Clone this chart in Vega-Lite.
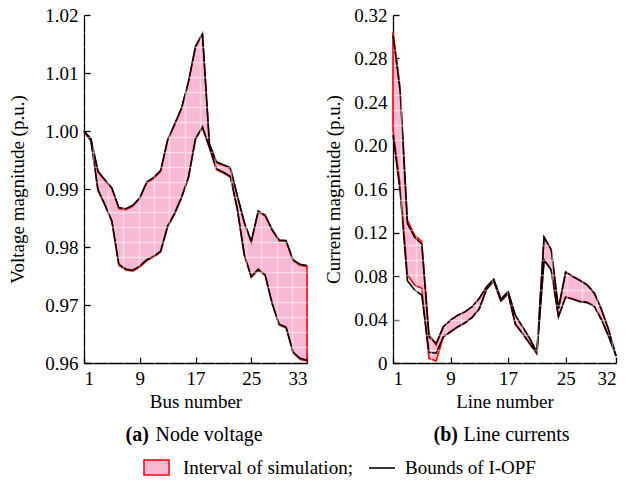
{
  "$schema": "https://vega.github.io/schema/vega-lite/v6.json",
  "background": "white",
  "padding": {"left": 8, "top": 6, "right": 8, "bottom": 4},
  "bounds": "flush",
  "spacing": 86,
  "config": {
    "font": "Liberation Serif",
    "view": {"stroke": null},
    "axis": {
      "labelFont": "Liberation Serif", "titleFont": "Liberation Serif",
      "labelFontSize": 19, "titleFontSize": 19, "titleFontWeight": "normal",
      "labelColor": "black", "titleColor": "black",
      "domainColor": "black", "tickColor": "black", "domainWidth": 1.3, "tickWidth": 1.3,
      "tickSize": -6, "labelPadding": 12, "grid": false
    },
    "legend": {"labelFont": "Liberation Serif", "labelFontSize": 19, "labelColor": "black", "labelLimit": 400, "title": null, "padding": 0},
    "title": {"font": "Liberation Serif", "subtitleFont": "Liberation Serif", "fontSize": 20, "subtitleFontSize": 20, "color": "black", "subtitleColor": "black"}
  },
  "datasets": {
    "voltage": [
      {"bus": 1, "opf_lo": 1.0000, "opf_hi": 1.0000, "sim_lo": 0.99985, "sim_hi": 0.99985},
      {"bus": 2, "opf_lo": 0.9984, "opf_hi": 0.9987, "sim_lo": 0.99825, "sim_hi": 0.99855},
      {"bus": 3, "opf_lo": 0.9899, "opf_hi": 0.9931, "sim_lo": 0.98975, "sim_hi": 0.99295},
      {"bus": 4, "opf_lo": 0.9873, "opf_hi": 0.9916, "sim_lo": 0.98715, "sim_hi": 0.99145},
      {"bus": 5, "opf_lo": 0.9845, "opf_hi": 0.9902, "sim_lo": 0.98435, "sim_hi": 0.99005},
      {"bus": 6, "opf_lo": 0.9770, "opf_hi": 0.9868, "sim_lo": 0.97685, "sim_hi": 0.98665},
      {"bus": 7, "opf_lo": 0.9762, "opf_hi": 0.9866, "sim_lo": 0.97605, "sim_hi": 0.98645},
      {"bus": 8, "opf_lo": 0.9760, "opf_hi": 0.9872, "sim_lo": 0.97585, "sim_hi": 0.98705},
      {"bus": 9, "opf_lo": 0.9767, "opf_hi": 0.9885, "sim_lo": 0.97655, "sim_hi": 0.98835},
      {"bus": 10, "opf_lo": 0.9778, "opf_hi": 0.9912, "sim_lo": 0.97765, "sim_hi": 0.99105},
      {"bus": 11, "opf_lo": 0.9784, "opf_hi": 0.9920, "sim_lo": 0.97825, "sim_hi": 0.99185},
      {"bus": 12, "opf_lo": 0.9793, "opf_hi": 0.9932, "sim_lo": 0.97915, "sim_hi": 0.99305},
      {"bus": 13, "opf_lo": 0.9836, "opf_hi": 0.9985, "sim_lo": 0.98345, "sim_hi": 0.99835},
      {"bus": 14, "opf_lo": 0.9858, "opf_hi": 1.0012, "sim_lo": 0.98565, "sim_hi": 1.00105},
      {"bus": 15, "opf_lo": 0.9886, "opf_hi": 1.0040, "sim_lo": 0.98845, "sim_hi": 1.00385},
      {"bus": 16, "opf_lo": 0.9921, "opf_hi": 1.0086, "sim_lo": 0.99195, "sim_hi": 1.00845},
      {"bus": 17, "opf_lo": 0.9987, "opf_hi": 1.0146, "sim_lo": 0.99855, "sim_hi": 1.01445},
      {"bus": 18, "opf_lo": 1.0007, "opf_hi": 1.0168, "sim_lo": 1.00055, "sim_hi": 1.01665},
      {"bus": 19, "opf_lo": 0.9972, "opf_hi": 0.9978, "sim_lo": 0.99705, "sim_hi": 0.99765},
      {"bus": 20, "opf_lo": 0.9935, "opf_hi": 0.9947, "sim_lo": 0.99335, "sim_hi": 0.99455},
      {"bus": 21, "opf_lo": 0.9929, "opf_hi": 0.9942, "sim_lo": 0.99275, "sim_hi": 0.99405},
      {"bus": 22, "opf_lo": 0.9922, "opf_hi": 0.9937, "sim_lo": 0.99205, "sim_hi": 0.99355},
      {"bus": 23, "opf_lo": 0.9866, "opf_hi": 0.9889, "sim_lo": 0.98645, "sim_hi": 0.98875},
      {"bus": 24, "opf_lo": 0.9787, "opf_hi": 0.9843, "sim_lo": 0.97855, "sim_hi": 0.98415},
      {"bus": 25, "opf_lo": 0.9749, "opf_hi": 0.9810, "sim_lo": 0.97475, "sim_hi": 0.98085},
      {"bus": 26, "opf_lo": 0.9762, "opf_hi": 0.9862, "sim_lo": 0.97605, "sim_hi": 0.98605},
      {"bus": 27, "opf_lo": 0.9752, "opf_hi": 0.9855, "sim_lo": 0.97505, "sim_hi": 0.98535},
      {"bus": 28, "opf_lo": 0.9703, "opf_hi": 0.9830, "sim_lo": 0.97015, "sim_hi": 0.98285},
      {"bus": 29, "opf_lo": 0.9667, "opf_hi": 0.9812, "sim_lo": 0.96655, "sim_hi": 0.98105},
      {"bus": 30, "opf_lo": 0.9662, "opf_hi": 0.9811, "sim_lo": 0.96605, "sim_hi": 0.98095},
      {"bus": 31, "opf_lo": 0.9619, "opf_hi": 0.9778, "sim_lo": 0.96175, "sim_hi": 0.97765},
      {"bus": 32, "opf_lo": 0.9608, "opf_hi": 0.9770, "sim_lo": 0.96065, "sim_hi": 0.97685},
      {"bus": 33, "opf_lo": 0.9605, "opf_hi": 0.9768, "sim_lo": 0.96035, "sim_hi": 0.97665}
    ],
    "current": [
      {"line": 1, "opf_lo": 0.2097, "opf_hi": 0.3016, "sim_lo": 0.2143, "sim_hi": 0.3047},
      {"line": 2, "opf_lo": 0.157, "opf_hi": 0.2495, "sim_lo": 0.163, "sim_hi": 0.2526},
      {"line": 3, "opf_lo": 0.0757, "opf_hi": 0.1284, "sim_lo": 0.081, "sim_hi": 0.1315},
      {"line": 4, "opf_lo": 0.0671, "opf_hi": 0.1156, "sim_lo": 0.0717, "sim_hi": 0.1177},
      {"line": 5, "opf_lo": 0.0625, "opf_hi": 0.1094, "sim_lo": 0.0687, "sim_hi": 0.1116},
      {"line": 6, "opf_lo": 0.0098, "opf_hi": 0.024, "sim_lo": 0.0043, "sim_hi": 0.0267},
      {"line": 7, "opf_lo": 0.009, "opf_hi": 0.018, "sim_lo": 0.0018, "sim_hi": 0.0166},
      {"line": 8, "opf_lo": 0.0242, "opf_hi": 0.0334, "sim_lo": 0.0238, "sim_hi": 0.0334},
      {"line": 9, "opf_lo": 0.0288, "opf_hi": 0.0395, "sim_lo": 0.0284, "sim_hi": 0.0395},
      {"line": 10, "opf_lo": 0.0334, "opf_hi": 0.044, "sim_lo": 0.033, "sim_hi": 0.044},
      {"line": 11, "opf_lo": 0.037, "opf_hi": 0.047, "sim_lo": 0.0366, "sim_hi": 0.047},
      {"line": 12, "opf_lo": 0.042, "opf_hi": 0.0518, "sim_lo": 0.0416, "sim_hi": 0.0518},
      {"line": 13, "opf_lo": 0.050, "opf_hi": 0.0595, "sim_lo": 0.0496, "sim_hi": 0.0595},
      {"line": 14, "opf_lo": 0.068, "opf_hi": 0.070, "sim_lo": 0.0676, "sim_hi": 0.070},
      {"line": 15, "opf_lo": 0.0754, "opf_hi": 0.077, "sim_lo": 0.075, "sim_hi": 0.077},
      {"line": 16, "opf_lo": 0.0573, "opf_hi": 0.0586, "sim_lo": 0.057, "sim_hi": 0.0586},
      {"line": 17, "opf_lo": 0.064, "opf_hi": 0.0656, "sim_lo": 0.0636, "sim_hi": 0.0656},
      {"line": 18, "opf_lo": 0.0359, "opf_hi": 0.044, "sim_lo": 0.0355, "sim_hi": 0.044},
      {"line": 19, "opf_lo": 0.0273, "opf_hi": 0.0334, "sim_lo": 0.027, "sim_hi": 0.0334},
      {"line": 20, "opf_lo": 0.018, "opf_hi": 0.0227, "sim_lo": 0.0177, "sim_hi": 0.0227},
      {"line": 21, "opf_lo": 0.0089, "opf_hi": 0.0095, "sim_lo": 0.0086, "sim_hi": 0.0095},
      {"line": 22, "opf_lo": 0.0947, "opf_hi": 0.1156, "sim_lo": 0.0947, "sim_hi": 0.116},
      {"line": 23, "opf_lo": 0.0855, "opf_hi": 0.104, "sim_lo": 0.0855, "sim_hi": 0.1044},
      {"line": 24, "opf_lo": 0.0426, "opf_hi": 0.050, "sim_lo": 0.0426, "sim_hi": 0.050},
      {"line": 25, "opf_lo": 0.0604, "opf_hi": 0.0834, "sim_lo": 0.0608, "sim_hi": 0.0838},
      {"line": 26, "opf_lo": 0.0586, "opf_hi": 0.0794, "sim_lo": 0.059, "sim_hi": 0.0798},
      {"line": 27, "opf_lo": 0.0564, "opf_hi": 0.0757, "sim_lo": 0.0568, "sim_hi": 0.0761},
      {"line": 28, "opf_lo": 0.0555, "opf_hi": 0.0717, "sim_lo": 0.0559, "sim_hi": 0.0721},
      {"line": 29, "opf_lo": 0.0518, "opf_hi": 0.064, "sim_lo": 0.0522, "sim_hi": 0.0644},
      {"line": 30, "opf_lo": 0.0395, "opf_hi": 0.0487, "sim_lo": 0.0399, "sim_hi": 0.049},
      {"line": 31, "opf_lo": 0.024, "opf_hi": 0.030, "sim_lo": 0.0243, "sim_hi": 0.0303},
      {"line": 32, "opf_lo": 0.0064, "opf_hi": 0.0066, "sim_lo": 0.0064, "sim_hi": 0.0066}
    ]
  },
  "hconcat": [
    {
      "width": 223, "height": 348,
      "data": {"name": "voltage"},
      "title": {"text": "(a)", "subtitle": "\u2800\u2800Node voltage", "orient": "bottom", "anchor": "middle", "align": "left", "dx": -70, "fontWeight": "bold", "subtitleFontWeight": "normal", "subtitlePadding": -20, "offset": 14},
      "resolve": {"axis": {"x": "independent", "y": "independent"}},
      "layer": [
        {
          "mark": {"type": "area", "stroke": "#ff0000", "strokeWidth": 1.6, "fillOpacity": 1, "opacity": 1},
          "encoding": {
            "x": {"field": "bus", "type": "quantitative", "scale": {"domain": [1, 33], "nice": false, "zero": false},
                  "axis": {"values": [1, 9, 17, 25, 33], "format": "d", "title": "Bus number", "titlePadding": 4, "orient": "bottom"}},
            "y": {"field": "sim_lo", "type": "quantitative", "scale": {"domain": [0.96, 1.02], "nice": false, "zero": false},
                  "axis": {"values": [0.96, 0.97, 0.98, 0.99, 1.0, 1.01, 1.02], "format": ".2f", "title": "Voltage magnitude (p.u.)", "titlePadding": 17, "orient": "left"}},
            "y2": {"field": "sim_hi"},
            "fill": {"datum": "Interval of simulation;", "type": "nominal",
              "scale": {"domain": ["Interval of simulation;"], "range": ["#f6b8d3"]},
              "legend": {
                "orient": "none", "legendX": 59, "legendY": 439,
                "symbolType": "M-1,-0.6H1V0.6H-1Z", "symbolSize": 625,
                "symbolFillColor": "#f6b8d3", "symbolStrokeColor": "#ff0000", "symbolStrokeWidth": 1.5, "symbolOpacity": 1,
                "labelOffset": 13
              }
            }
          }
        },
        {
          "mark": {"type": "line", "strokeWidth": 1.6},
          "encoding": {
            "x": {"field": "bus", "type": "quantitative",
                  "axis": {"orient": "top", "values": [2.26, 4.46, 6.66, 8.86, 11.06, 13.26, 15.46, 17.66, 19.86, 22.06, 24.26, 26.46, 28.66, 30.86],
                           "grid": true, "gridColor": "#ffffff", "gridOpacity": 0.45, "gridWidth": 1.5, "labels": false, "ticks": false, "domain": false, "title": null, "zindex": 1, "minExtent": 0, "maxExtent": 0}},
            "y": {"field": "opf_hi", "type": "quantitative",
                  "axis": {"orient": "right", "values": [0.96281, 0.9654, 0.96799, 0.97057, 0.97316, 0.97574, 0.97833, 0.98092, 0.9835, 0.98609, 0.98867, 0.99126, 0.99385, 0.99643, 0.99902, 1.0016, 1.00419, 1.00678, 1.00936, 1.01195, 1.01453, 1.01712, 1.0197],
                           "grid": true, "gridColor": "#ffffff", "gridOpacity": 0.45, "gridWidth": 1.5, "labels": false, "ticks": false, "domain": false, "title": null, "zindex": 1, "minExtent": 0, "maxExtent": 0}},
            "stroke": {"datum": "Bounds of I-OPF", "type": "nominal",
              "scale": {"domain": ["Bounds of I-OPF"], "range": ["#000000"]},
              "legend": {
                "orient": "none", "legendX": 284, "legendY": 439,
                "symbolType": "stroke", "symbolSize": 676, "symbolStrokeWidth": 1.6, "symbolStrokeColor": "#000000",
                "labelOffset": 9
              }
            }
          }
        },
        {
          "mark": {"type": "line", "strokeWidth": 1.6},
          "encoding": {
            "x": {"field": "bus", "type": "quantitative", "axis": null},
            "y": {"field": "opf_lo", "type": "quantitative", "axis": null},
            "stroke": {"datum": "Bounds of I-OPF", "type": "nominal"}
          }
        }
      ]
    },
    {
      "width": 223, "height": 348,
      "data": {"name": "current"},
      "title": {"text": "(b)", "subtitle": "\u2800\u2800Line currents", "orient": "bottom", "anchor": "middle", "align": "left", "dx": -71, "fontWeight": "bold", "subtitleFontWeight": "normal", "subtitlePadding": -20, "offset": 14},
      "resolve": {"axis": {"x": "independent", "y": "independent"}},
      "layer": [
        {
          "mark": {"type": "area", "fill": "#f6b8d3", "stroke": "#ff0000", "strokeWidth": 1.6, "fillOpacity": 1, "opacity": 1},
          "encoding": {
            "x": {"field": "line", "type": "quantitative", "scale": {"domain": [1, 32], "nice": false, "zero": false},
                  "axis": {"values": [1, 9, 17, 25, 32], "format": "d", "title": "Line number", "titlePadding": 4, "orient": "bottom"}},
            "y": {"field": "sim_lo", "type": "quantitative", "scale": {"domain": [0, 0.32], "nice": false, "zero": false},
                  "axis": {"values": [0, 0.04, 0.08, 0.12, 0.16, 0.2, 0.24, 0.28, 0.32], "labelExpr": "datum.value == 0 ? '0' : format(datum.value, '.2f')", "title": "Current magnitude (p.u.)", "titlePadding": 10, "orient": "left"}},
            "y2": {"field": "sim_hi"}
          }
        },
        {
          "mark": {"type": "line", "color": "#000000", "strokeWidth": 1.6},
          "encoding": {
            "x": {"field": "line", "type": "quantitative",
                  "axis": {"orient": "top", "values": [2.1, 4.2, 6.3, 8.4, 10.5, 12.6, 14.7, 16.8, 18.9, 21.0, 23.1, 25.2, 27.3, 29.4, 31.5],
                           "grid": true, "gridColor": "#ffffff", "gridOpacity": 0.45, "gridWidth": 1.5, "labels": false, "ticks": false, "domain": false, "title": null, "zindex": 1, "minExtent": 0, "maxExtent": 0}},
            "y": {"field": "opf_hi", "type": "quantitative",
                  "axis": {"orient": "right", "values": [0.0119, 0.0257, 0.0395, 0.0533, 0.0671, 0.0809, 0.0947, 0.1085, 0.1223, 0.1361, 0.1499, 0.1637, 0.1775, 0.1913, 0.2051, 0.2189, 0.2327, 0.2465, 0.2603, 0.2741, 0.2879, 0.3017, 0.3155],
                           "grid": true, "gridColor": "#ffffff", "gridOpacity": 0.45, "gridWidth": 1.5, "labels": false, "ticks": false, "domain": false, "title": null, "zindex": 1, "minExtent": 0, "maxExtent": 0}}
          }
        },
        {
          "mark": {"type": "line", "color": "#000000", "strokeWidth": 1.6},
          "encoding": {
            "x": {"field": "line", "type": "quantitative", "axis": null},
            "y": {"field": "opf_lo", "type": "quantitative", "axis": null}
          }
        }
      ]
    }
  ]
}
